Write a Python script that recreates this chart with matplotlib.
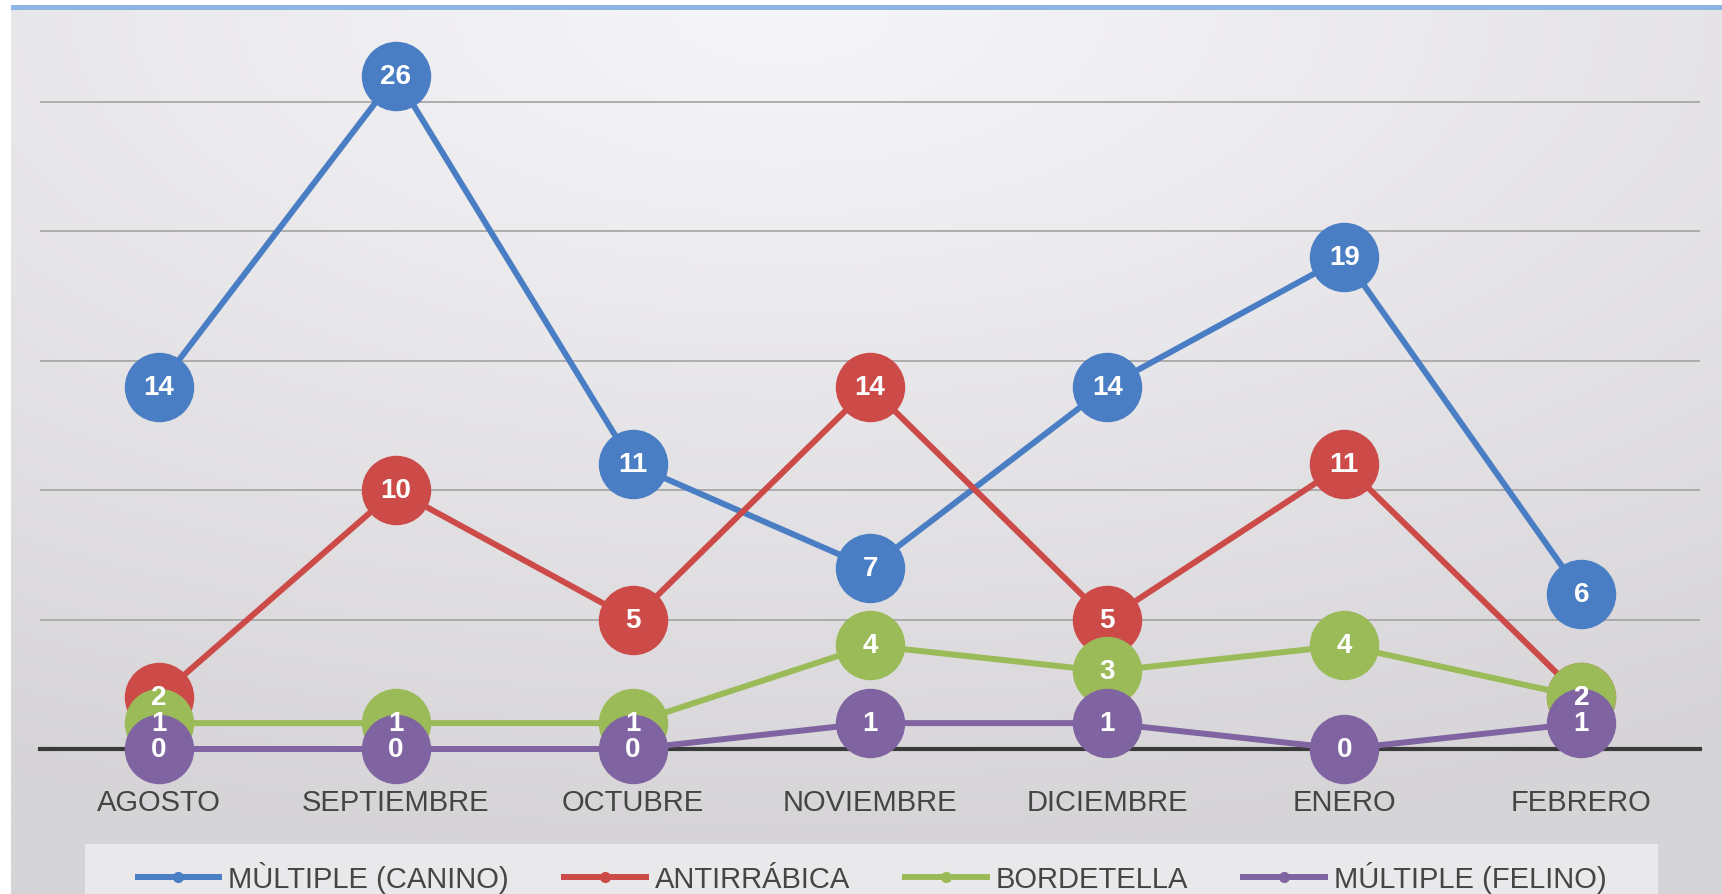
import numpy as np
import matplotlib
matplotlib.use("Agg")
import matplotlib.pyplot as plt
from matplotlib.patches import Rectangle
from matplotlib.lines import Line2D

# ---------------- data ----------------
months = ["AGOSTO", "SEPTIEMBRE", "OCTUBRE", "NOVIEMBRE", "DICIEMBRE", "ENERO", "FEBRERO"]
series_names = ["MÙLTIPLE (CANINO)", "ANTIRRÁBICA", "BORDETELLA", "MÚLTIPLE (FELINO)"]
multiple_canino = [14, 26, 11, 7, 14, 19, 6]
antirrabica = [2, 10, 5, 14, 5, 11, 2]
bordetella = [1, 1, 1, 4, 3, 4, 2]
multiple_felino = [0, 0, 0, 1, 1, 0, 1]
series_values = [multiple_canino, antirrabica, bordetella, multiple_felino]
series_colors = ["#4A7EC4", "#CC4B48", "#9BBB59", "#8064A2"]

plt.rcParams['font.family'] = ['Liberation Sans', 'DejaVu Sans']

W, H = 1722, 895
fig = plt.figure(figsize=(W / 100, H / 100), dpi=100, facecolor="white")

# background gradient (chart area)
bg = fig.add_axes([11 / W, 0, 1 - 11 / W, (H - 11) / H], zorder=-3)
bg.set_axis_off()
ny, nx = 200, 400
yy, xx = np.mgrid[0:1:ny * 1j, 0:1:nx * 1j]
d = np.sqrt(((xx - 0.45) * 1.0) ** 2 + (yy * 1.1) ** 2)
d = np.clip(d / 1.05, 0, 1)
c0 = np.array([0xF6, 0xF5, 0xF7]) / 255
c1 = np.array([0xD6, 0xD4, 0xD7]) / 255
img = c0[None, None, :] * (1 - d[..., None]) + c1[None, None, :] * d[..., None]
bg.imshow(img, aspect="auto", extent=[0, 1, 0, 1], origin="upper", interpolation="bilinear")
bg.set_xlim(0, 1)
bg.set_ylim(0, 1)

# top blue border line
fig.patches.append(Rectangle((11 / W, (H - 11) / H), 1 - 11 / W, 5 / H,
                             transform=fig.transFigure, facecolor="#8EB4E3",
                             edgecolor="none", zorder=5))

# legend background box
fig.patches.append(Rectangle((85 / W, 0), (1658 - 85) / W, (H - 845) / H,
                             transform=fig.transFigure, facecolor="#ECEBEE",
                             edgecolor="none", alpha=0.9, zorder=-2))

# main axes
unit = 25.88
ymax = 30
ax = fig.add_axes([40 / W, 145 / H, (1700 - 40) / W, ymax * unit / H], zorder=0)
ax.set_facecolor("none")
ax.set_xlim(-0.5, len(months) - 0.5)
ax.set_ylim(0, ymax)
x = np.arange(len(months))

ax.set_yticks([5, 10, 15, 20, 25])
ax.yaxis.grid(True, color="#A8A8A8", linewidth=1.3)
ax.set_axisbelow(True)
for s in ["top", "left", "right"]:
    ax.spines[s].set_visible(False)
ax.spines["bottom"].set_color("#3A3A3A")
ax.spines["bottom"].set_linewidth(3)
ax.spines["bottom"].set_zorder(2.5)
ax.tick_params(axis="y", left=False, labelleft=False)
ax.set_xticks(x)
ax.set_xticklabels(months, fontsize=21, color="#454545")
ax.tick_params(axis="x", length=0, pad=28)

for i, (vals, col) in enumerate(zip(series_values, series_colors)):
    ax.plot(x, vals, color=col, linewidth=4.3, marker="o", markersize=50,
            markeredgewidth=0, clip_on=False, zorder=3 + i, solid_capstyle="round")

for vals in series_values:
    for xi, v in zip(x, vals):
        ax.text(xi, v, str(v), ha="center", va="center", fontsize=20,
                fontweight="bold", color="white", zorder=20, clip_on=False)

handles = [Line2D([0], [0], color=c, linewidth=4.3, marker="o", markersize=8,
                  markeredgewidth=0) for c in series_colors]
leg = ax.legend(handles, series_names, loc="center",
                bbox_to_anchor=(872 / W, (H - 878) / H),
                bbox_transform=fig.transFigure, ncol=4, frameon=False,
                handlelength=2.8, handletextpad=0.3, columnspacing=1.9,
                prop={"size": 21}, labelcolor="#454545")
leg.set_zorder(30)

fig.savefig("out.png", dpi=100, facecolor="white")
